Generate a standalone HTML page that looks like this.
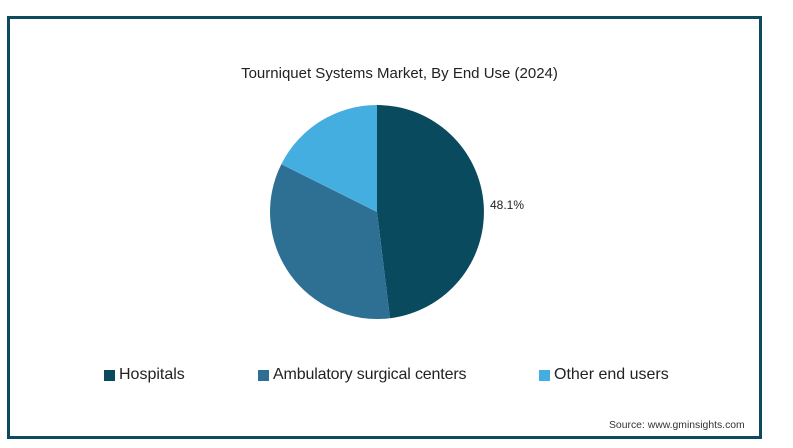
<!DOCTYPE html>
<html><head><style>
body{margin:0;width:793px;height:448px;background:#fff;position:relative;font-family:"Liberation Sans",sans-serif;overflow:hidden}
.frame{position:absolute;left:7px;top:16px;width:749px;height:417px;border:3px solid #0d4a5e}
.t{position:absolute;white-space:nowrap;color:#222}
.sq{position:absolute;width:11px;height:11px}
</style></head><body>
<div class="frame"></div>
<div class="t" style="left:3px;width:793px;text-align:center;top:65px;font-size:15px">Tourniquet Systems Market, By End Use (2024)</div>
<svg style="position:absolute;left:0;top:0" width="793" height="448">
<path d="M377,212 L377,105 A107,107 0 0 1 390.0,318.2 Z" fill="#0a4a5f"/>
<path d="M377,212 L390.0,318.2 A107,107 0 0 1 281.3,164.2 Z" fill="#2e6f94"/>
<path d="M377,212 L281.3,164.2 A107,107 0 0 1 377,105 Z" fill="#45aee0"/>
</svg>
<div class="t" style="left:490px;top:198px;font-size:12px">48.1%</div>
<div class="sq" style="left:104px;top:370px;background:#0a4a5f"></div>
<div class="t" style="left:119px;top:366px;font-size:16px">Hospitals</div>
<div class="sq" style="left:258px;top:370px;background:#2e6f94"></div>
<div class="t" style="left:273px;top:366px;font-size:16px;letter-spacing:-0.15px">Ambulatory surgical centers</div>
<div class="sq" style="left:539px;top:370px;background:#45aee0"></div>
<div class="t" style="left:554px;top:366px;font-size:16px">Other end users</div>
<div class="t" style="left:609px;top:420px;font-size:10.4px;color:#333">Source: www.gminsights.com</div>
</body></html>
